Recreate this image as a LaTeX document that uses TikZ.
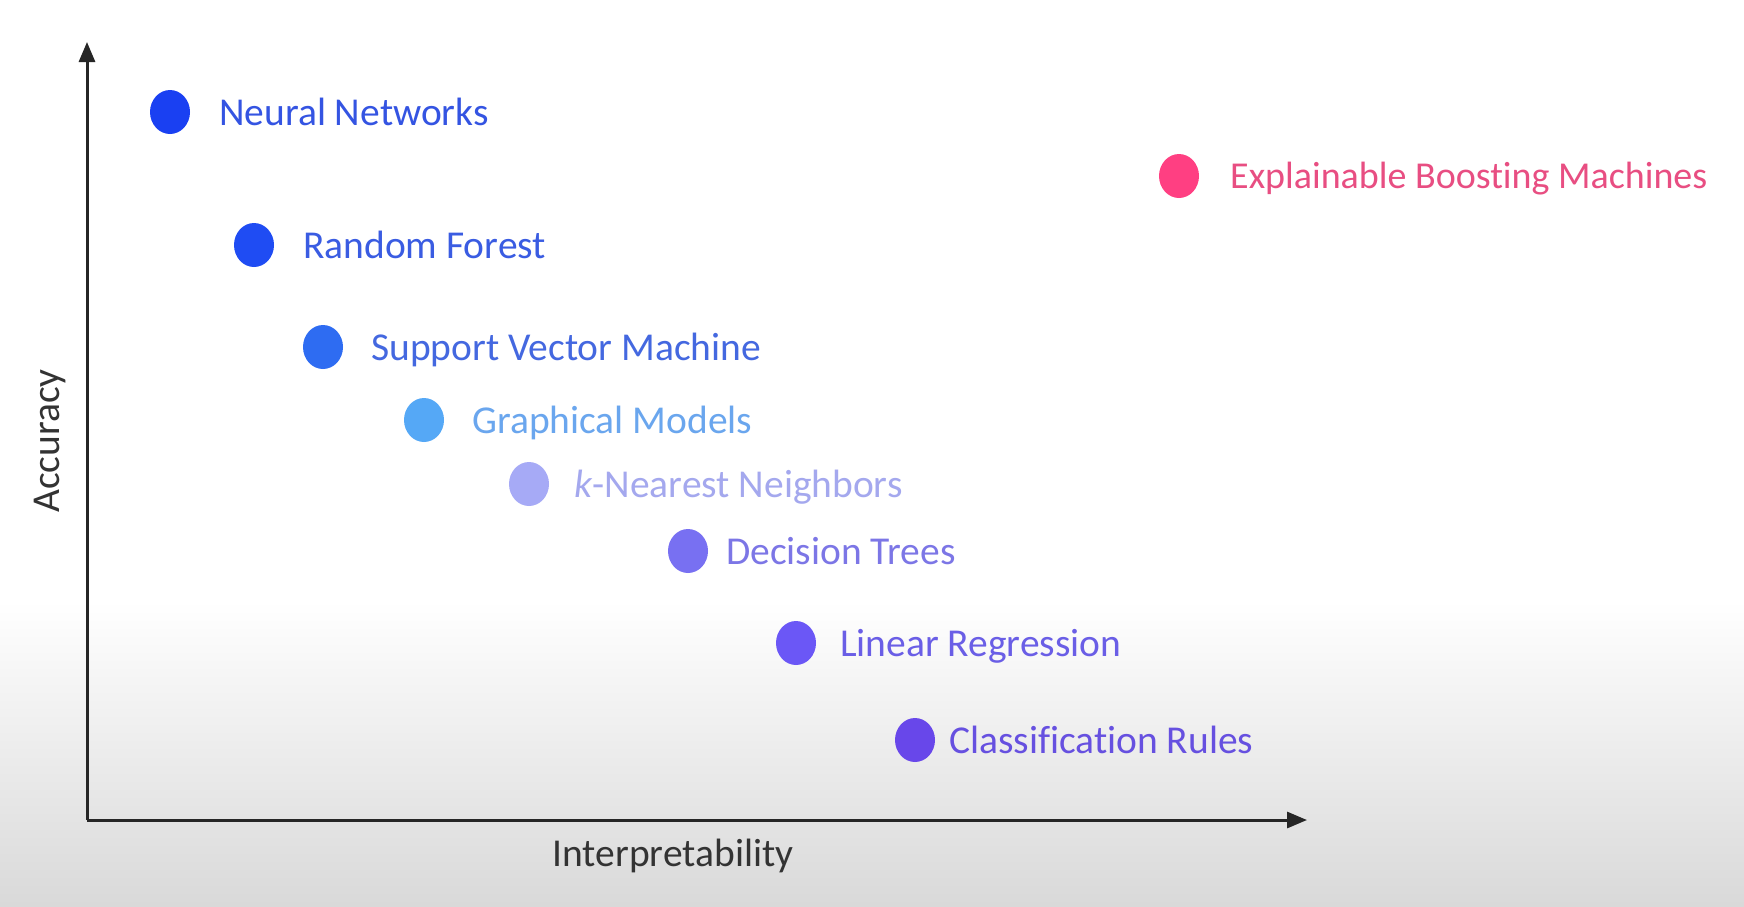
\documentclass[tikz,border=0pt]{standalone}
\usepackage{fontspec}
\setmainfont[Ligatures=NoCommon]{Carlito}
\usetikzlibrary{arrows.meta,shapes.geometric}
\definecolor{cNN}{HTML}{1A40F2}
\definecolor{tNN}{HTML}{3454E2}
\definecolor{cRF}{HTML}{1F4CF3}
\definecolor{tRF}{HTML}{3A5CE2}
\definecolor{cSVM}{HTML}{2E6CF2}
\definecolor{tSVM}{HTML}{4468E0}
\definecolor{cGM}{HTML}{55A8F6}
\definecolor{tGM}{HTML}{6AA6EE}
\definecolor{cKNN}{HTML}{A6AAF6}
\definecolor{tKNN}{HTML}{A4A8EE}
\definecolor{cDT}{HTML}{7870F2}
\definecolor{tDT}{HTML}{7C76E6}
\definecolor{cLR}{HTML}{6B57F6}
\definecolor{tLR}{HTML}{6A5EE6}
\definecolor{cCR}{HTML}{6847EA}
\definecolor{tCR}{HTML}{6650E0}
\definecolor{cEBM}{HTML}{FF3F82}
\definecolor{tEBM}{HTML}{E84E82}
\definecolor{axlab}{HTML}{333333}
\definecolor{bgbot}{HTML}{D9D9D9}
\tikzset{
  dot/.style={ellipse, minimum width=40pt, minimum height=44pt, inner sep=0pt, draw=none},
  lbl/.style={anchor=base west, inner sep=0pt, font=\fontsize{39.5}{41}\selectfont},
  axlbl/.style={inner sep=0pt, text=axlab, font=\fontsize{39.5}{41}\selectfont},
  axis/.style={line width=3pt, draw=black!85, -{Triangle[length=20pt,width=16pt]}}
}
\begin{document}
\begin{tikzpicture}[x=1pt,y=-1pt]
\useasboundingbox (0,0) rectangle (1744,906);
\fill[white] (0,0) rectangle (1744,600);
\shade[top color=white, bottom color=bgbot] (0,600) rectangle (1744,906);
% axes
\coordinate (o) at (87,820);
\coordinate (ytip) at (87,42);
\coordinate (xtip) at (1307,820);
\draw[axis] (o) -- (ytip);
\draw[axis] (o) -- (xtip);
\node[axlbl, rotate=90] (acc) at (50,441) {Accuracy};
\node[axlbl] (interp) at (673,856) {Interpretability};
% points
\node[dot, fill=cNN] (nn) at (170,112) {};
\node[lbl, text=tNN] (nnL) at (219,125) {Neural Networks};
\node[dot, fill=cRF] (rf) at (254,245) {};
\node[lbl, text=tRF] (rfL) at (303,258) {Random Forest};
\node[dot, fill=cSVM] (svm) at (323,347) {};
\node[lbl, text=tSVM] (svmL) at (371,360) {Support Vector Machine};
\node[dot, fill=cGM] (gm) at (424,420) {};
\node[lbl, text=tGM] (gmL) at (472,433) {Graphical Models};
\node[dot, fill=cKNN] (knn) at (529,484) {};
\node[lbl, text=tKNN] (knnL) at (574,497) {\textit{k}-Nearest Neighbors};
\node[dot, fill=cDT] (dt) at (688,551) {};
\node[lbl, text=tDT] (dtL) at (726,564) {Decision Trees};
\node[dot, fill=cLR] (lr) at (796,643) {};
\node[lbl, text=tLR] (lrL) at (840,656) {Linear Regression};
\node[dot, fill=cCR] (cr) at (915,740) {};
\node[lbl, text=tCR] (crL) at (949,753) {Classification Rules};
\node[dot, fill=cEBM] (ebm) at (1179,176) {};
\node[lbl, text=tEBM, font=\fontsize{38}{40}\selectfont] (ebmL) at (1230,188) {Explainable Boosting Machines};
\end{tikzpicture}
\end{document}
